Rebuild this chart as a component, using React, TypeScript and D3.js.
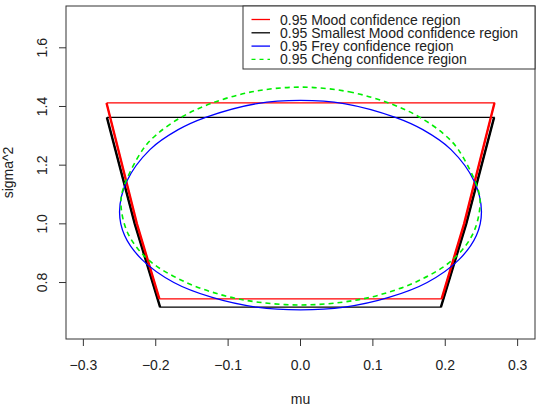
import React from "react";
import * as d3 from "d3";

// axis ticks
const muTicks = [-0.3, -0.2, -0.1, 0.0, 0.1, 0.2, 0.3];
const sigmaTicks = [0.8, 1.0, 1.2, 1.4, 1.6];

// 0.95 Mood region (corners + side midpoints)
const moodMu = [-0.268, -0.226, -0.195, 0.195, 0.226, 0.268];
const moodSig = [1.412, 1.0, 0.744, 0.744, 1.0, 1.412];

// 0.95 smallest Mood region
const smallMu = [-0.2675, -0.229, -0.194, 0.194, 0.229, 0.2675];
const smallSig = [1.363, 1.0, 0.716, 0.716, 1.0, 1.363];

// 0.95 Frey region, read around the curve
const freyMu = [0, 0.06, 0.131, 0.169, 0.208, 0.24, 0.25, 0.243, 0.219, 0.175, 0.122, 0.061,
  0, -0.061, -0.122, -0.175, -0.219, -0.243, -0.25, -0.24, -0.208, -0.169, -0.131, -0.06];
const freySig = [1.421, 1.41, 1.363, 1.321, 1.253, 1.145, 1.042, 0.96, 0.878, 0.8, 0.749, 0.716,
  0.7065, 0.716, 0.749, 0.8, 0.878, 0.96, 1.042, 1.145, 1.253, 1.321, 1.363, 1.41];

// 0.95 Cheng region
const chengMu = [0, 0.067, 0.125, 0.165, 0.199, 0.218, 0.245, 0.248, 0.238, 0.21, 0.163, 0.108, 0.058,
  0, -0.058, -0.108, -0.163, -0.21, -0.238, -0.248, -0.245, -0.218, -0.199, -0.165, -0.125, -0.067];
const chengSig = [1.466, 1.45, 1.409, 1.363, 1.304, 1.253, 1.12, 1.062, 0.965, 0.877, 0.806, 0.757, 0.733,
  0.7235, 0.733, 0.757, 0.806, 0.877, 0.965, 1.062, 1.12, 1.253, 1.304, 1.363, 1.409, 1.45];

const legendLabels = [
  "0.95 Mood confidence region",
  "0.95 Smallest Mood confidence region",
  "0.95 Frey confidence region",
  "0.95 Cheng confidence region",
];
const legendColors = ["#ff0000", "#000000", "#0000ff", "#00ee00"];
const legendDash = [null, null, null, "4,4"];

const W = 537;
const H = 413;
const left = 66, right = 535, top = 6, bottom = 339;
const font = "'Liberation Sans', Arial, Helvetica, sans-serif";

const zip = (a: number[], b: number[]) => a.map((v, i) => [v, b[i]] as [number, number]);

export default function App() {
  const x = d3.scaleLinear().domain([-0.324, 0.324]).range([left, right]);
  const y = d3.scaleLinear().domain([0.6075, 1.7425]).range([bottom, top]);

  const lin = d3.line<[number, number]>().x((d) => x(d[0])).y((d) => y(d[1]));
  const smooth = d3
    .line<[number, number]>()
    .x((d) => x(d[0]))
    .y((d) => y(d[1]))
    .curve(d3.curveCatmullRomClosed.alpha(0.5));

  const mood = zip(moodMu, moodSig);
  const small = zip(smallMu, smallSig);

  // trapezoid-like region: thin top/bottom, sides drawn heavier like the original
  const trap = (pts: [number, number][], color: string) => (
    <g>
      <path d={lin([...pts, pts[0]]) || ""} fill="none" stroke={color} strokeWidth={1.3} />
      <path d={lin(pts.slice(0, 3)) || ""} fill="none" stroke={color} strokeWidth={2.4} />
      <path d={lin(pts.slice(3)) || ""} fill="none" stroke={color} strokeWidth={2.4} />
    </g>
  );

  return (
    <svg width={W} height={H} style={{ position: "absolute", left: 0, top: 0, background: "#fff" }}
      fontFamily={font}>
      <rect x={0} y={0} width={W} height={H} fill="#fff" />
      {trap(small, "#000")}
      {trap(mood, "#ff0000")}
      <path d={smooth(zip(freyMu, freySig)) || ""} fill="none" stroke="#0000ff" strokeWidth={1.3} />
      <path d={smooth(zip(chengMu, chengSig)) || ""} fill="none" stroke="#00ee00" strokeWidth={1.6}
        strokeDasharray="5,4" />

      {/* plot box */}
      <rect x={left} y={top} width={right - left} height={bottom - top} fill="none" stroke="#333" strokeWidth={1} />

      {/* x axis */}
      {muTicks.map((t) => (
        <g key={"x" + t}>
          <line x1={x(t)} x2={x(t)} y1={bottom} y2={bottom + 7} stroke="#333" />
          <text x={x(t)} y={369.5} fontSize={14} textAnchor="middle" fill="#222">
            {d3.format(".1f")(t).replace("-", "\u2212")}
          </text>
        </g>
      ))}
      {/* y axis */}
      {sigmaTicks.map((t) => (
        <g key={"y" + t}>
          <line x1={left} x2={left - 7} y1={y(t)} y2={y(t)} stroke="#333" />
          <text transform={`translate(46.5,${y(t)}) rotate(-90)`} fontSize={14} textAnchor="middle" fill="#222">
            {d3.format(".1f")(t)}
          </text>
        </g>
      ))}
      <text x={(left + right) / 2} y={404} fontSize={14} textAnchor="middle" fill="#222">mu</text>
      <text transform={`translate(13,${(top + bottom) / 2}) rotate(-90)`} fontSize={14} textAnchor="middle"
        fill="#222">sigma^2</text>

      {/* legend */}
      <rect x={243} y={top} width={right - 243} height={63} fill="#fff" stroke="#333" />
      {legendLabels.map((lab, i) => {
        const cy = 19.5 + i * 13.3;
        return (
          <g key={lab}>
            <line x1={251.5} x2={270} y1={cy} y2={cy} stroke={legendColors[i]} strokeWidth={1.3}
              strokeDasharray={legendDash[i] || undefined} />
            <text x={280} y={cy + 5} fontSize={14} fill="#222">{lab}</text>
          </g>
        );
      })}
    </svg>
  );
}
